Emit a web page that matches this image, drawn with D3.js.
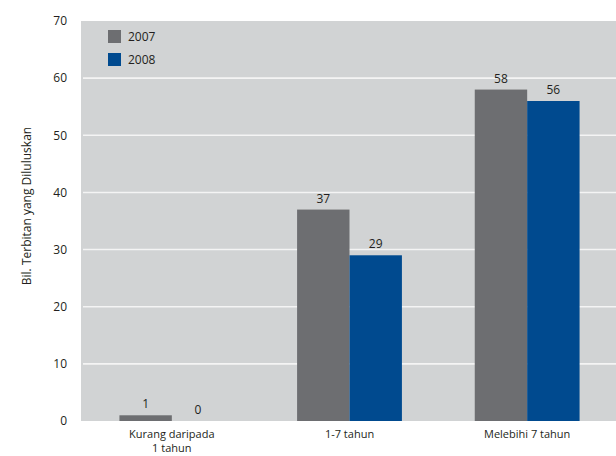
<!DOCTYPE html>
<html>
<head>
<meta charset="utf-8">
<script src="https://cdn.jsdelivr.net/npm/d3@7"></script>
<style>
  html, body { margin: 0; padding: 0; background: #ffffff; }
  svg { display: block; }
  text { font-family: "Open Sans", "Noto Sans", sans-serif; fill: #231f20; }
</style>
</head>
<body>
<svg id="chart" width="616" height="456"></svg>
<script>
const categories = ["Kurang daripada|1 tahun", "1-7 tahun", "Melebihi 7 tahun"];
const seriesNames = ["2007", "2008"];
const values2007 = [1, 37, 58];
const values2008 = [0, 29, 56];
const yTicks = [0, 10, 20, 30, 40, 50, 60, 70];
const yTitle = "Bil. Terbitan yang Diluluskan";
const colors = ["#6d6e71", "#004a8f"];

const svg = d3.select("#chart");
const plot = { left: 81, right: 616, top: 21, bottom: 421 };

const y = d3.scaleLinear().domain([0, 70]).range([plot.bottom, plot.top]);
const x0 = d3.scaleBand().domain(categories).range([83, 616]).paddingInner(0.41).paddingOuter(0.205);
const x1 = d3.scaleBand().domain(seriesNames).range([0, x0.bandwidth()]);
const color = d3.scaleOrdinal().domain(seriesNames).range(colors);

// background
svg.append("rect")
  .attr("x", plot.left).attr("y", plot.top)
  .attr("width", plot.right - plot.left).attr("height", plot.bottom - plot.top)
  .attr("fill", "#d1d3d4");

// gridlines
svg.append("g").selectAll("line")
  .data(yTicks.filter(t => t > 0 && t < 70))
  .join("line")
  .attr("x1", 83).attr("x2", plot.right)
  .attr("y1", d => y(d)).attr("y2", d => y(d))
  .attr("stroke", "#f4f4f4").attr("stroke-width", 1.6);

// y axis labels
const yAxis = d3.axisLeft(y).tickValues(yTicks).tickSize(0).tickPadding(0).tickFormat(d3.format("d"));
const gy = svg.append("g").attr("transform", "translate(67,0)").call(yAxis);
gy.select(".domain").remove();
gy.selectAll("text").style("font-size", "12px").style("font-family", "'Open Sans', sans-serif").attr("fill", "#231f20");

// y title
svg.append("text")
  .attr("transform", "translate(31,206) rotate(-90)")
  .attr("text-anchor", "middle")
  .style("font-size", "12px")
  .text(yTitle);

// bars
const data = categories.map((c, i) => ({ cat: c, vals: [
  { s: seriesNames[0], v: values2007[i] },
  { s: seriesNames[1], v: values2008[i] }
]}));

const groups = svg.append("g").selectAll("g")
  .data(data).join("g")
  .attr("transform", d => `translate(${x0(d.cat)},0)`);

groups.selectAll("rect")
  .data(d => d.vals).join("rect")
  .attr("x", d => x1(d.s))
  .attr("y", d => y(d.v))
  .attr("width", x1.bandwidth())
  .attr("height", d => y(0) - y(d.v))
  .attr("fill", d => color(d.s));

groups.selectAll("text.val")
  .data(d => d.vals).join("text")
  .attr("class", "val")
  .attr("x", d => x1(d.s) + x1.bandwidth() / 2)
  .attr("y", d => y(d.v) - 7)
  .attr("text-anchor", "middle")
  .style("font-size", "12px")
  .text(d => d.v);

// x category labels (one text element per line)
const lines = [];
categories.forEach(c => c.split("|").forEach((t, i) => lines.push({ c, t, i })));
svg.append("g").selectAll("text")
  .data(lines).join("text")
  .attr("x", d => x0(d.c) + x0.bandwidth() / 2)
  .attr("y", d => 438 + d.i * 14)
  .attr("text-anchor", "middle")
  .style("font-size", "11px")
  .text(d => d.t);

// legend
const legend = svg.append("g").attr("transform", "translate(108,30)");
seriesNames.forEach((s, i) => {
  const g = legend.append("g").attr("transform", `translate(0,${i * 23})`);
  g.append("rect").attr("width", 13).attr("height", 13).attr("fill", color(s));
  g.append("text").attr("x", 20).attr("y", 11).style("font-size", "12px").text(s);
});
</script>
</body>
</html>
